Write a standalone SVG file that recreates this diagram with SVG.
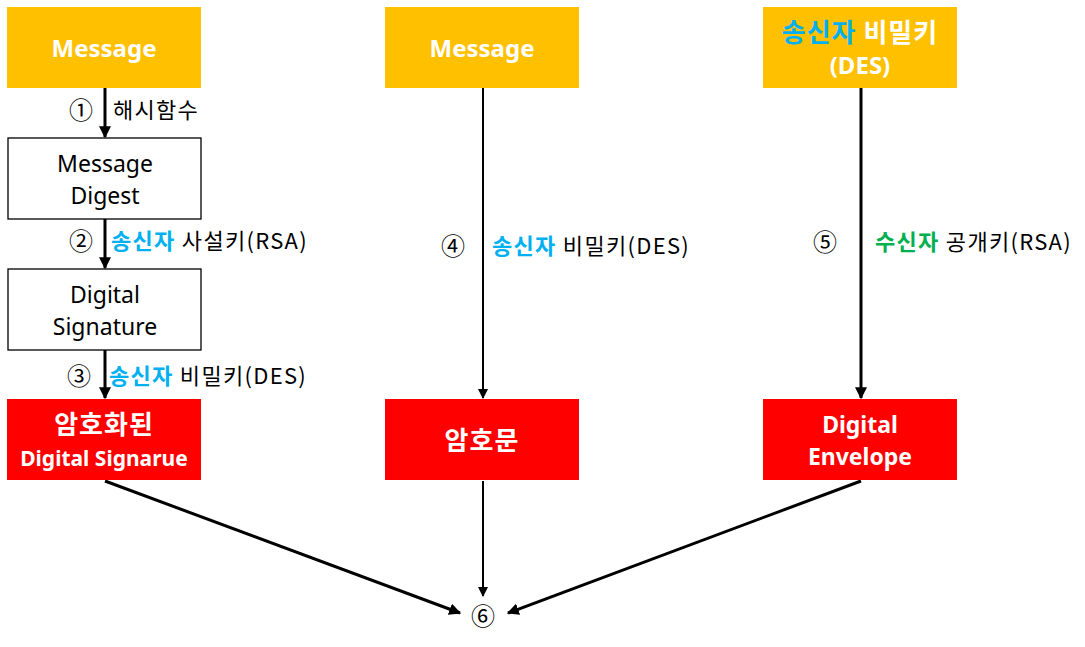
<svg xmlns="http://www.w3.org/2000/svg" width="1085" height="647" viewBox="0 0 1085 647">
<style>
text{font-family:"Noto Sans CJK KR","Noto Sans",sans-serif}
.lat{font-family:"Noto Sans","Noto Sans CJK KR",sans-serif}
.y{fill:#FFC000}
.r{fill:#FF0000}
.w{fill:#fff;stroke:#000;stroke-width:1.3}
.bt{fill:#fff;font-weight:bold;font-size:24px;text-anchor:middle}
.hk{font-size:26px;letter-spacing:1px}
.nt{fill:#000;font-size:23px;text-anchor:middle}
.lb{font-size:22px;fill:#000;letter-spacing:1.3px}
.num{font-size:24px;fill:#000;text-anchor:middle}
.bl{fill:#00B0F0;font-weight:bold}
.gr{fill:#00B050;font-weight:bold}
.c{stroke:#000;stroke-width:3;fill:none}
.c2{stroke:#000;stroke-width:2;fill:none}
</style>
<defs>
<marker id="ah" viewBox="0 0 10 10" refX="9" refY="5" markerWidth="4" markerHeight="4" orient="auto" markerUnits="strokeWidth"><path d="M0,0 L10,5 L0,10 z" fill="#000"/></marker>
<marker id="ah2" viewBox="0 0 10 10" refX="9" refY="5" markerWidth="5" markerHeight="5" orient="auto" markerUnits="strokeWidth"><path d="M0,0 L10,5 L0,10 z" fill="#000"/></marker>
</defs>
<g id="connectors">
<line class="c" x1="105" y1="88" x2="105" y2="137" marker-end="url(#ah)"/>
<line class="c" x1="105" y1="219" x2="105" y2="268" marker-end="url(#ah)"/>
<line class="c" x1="105" y1="350" x2="105" y2="398" marker-end="url(#ah)"/>
<line class="c2" x1="483" y1="88" x2="483" y2="398" marker-end="url(#ah2)"/>
<line class="c" x1="861" y1="88" x2="861" y2="398" marker-end="url(#ah)"/>
<line class="c" x1="105" y1="481" x2="460" y2="613" marker-end="url(#ah)"/>
<line class="c2" x1="483" y1="481" x2="483" y2="596" marker-end="url(#ah2)"/>
<line class="c" x1="861" y1="481" x2="508" y2="613" marker-end="url(#ah)"/>
</g>
<g id="labels">
<text class="num" x="81" y="119">①</text>
<text class="lb" x="113" y="118">해시함수</text>
<text class="num" x="81" y="250">②</text>
<text class="lb" x="111" y="249"><tspan class="bl">송신자</tspan> 사설키(RSA)</text>
<text class="num" x="79" y="385">③</text>
<text class="lb" x="109" y="384"><tspan class="bl">송신자</tspan> 비밀키(DES)</text>
<text class="num" x="453" y="255">④</text>
<text class="lb" x="492" y="254"><tspan class="bl">송신자</tspan> 비밀키(DES)</text>
<text class="num" x="825" y="251">⑤</text>
<text class="lb" x="875" y="250"><tspan class="gr">수신자</tspan> 공개키(RSA)</text>
<text class="num" x="483" y="625">⑥</text>
</g>
<g id="msg1"><rect class="y" x="7" y="7" width="194" height="81"/><text class="bt lat" x="104" y="57">Message</text></g>
<g id="digest"><rect class="w" x="8" y="138" width="193" height="81"/><text class="nt lat" x="105" y="172">Message</text><text class="nt lat" x="105" y="204">Digest</text></g>
<g id="sig"><rect class="w" x="8" y="269" width="193" height="81"/><text class="nt lat" x="105" y="303">Digital</text><text class="nt lat" x="105" y="335">Signature</text></g>
<g id="encsig"><rect class="r" x="7" y="399" width="194" height="81"/><text class="bt hk" x="104" y="434">암호화된</text><text class="bt lat" x="104" y="466" style="font-size:21px">Digital Signarue</text></g>
<g id="msg2"><rect class="y" x="385" y="7" width="194" height="81"/><text class="bt lat" x="482" y="57">Message</text></g>
<g id="cipher"><rect class="r" x="385" y="399" width="194" height="81"/><text class="bt hk" x="482" y="450">암호문</text></g>
<g id="key"><rect class="y" x="763" y="7" width="194" height="81"/><text class="bt hk" x="860" y="42"><tspan fill="#00B0F0">송신자</tspan> 비밀키</text><text class="bt lat" x="860" y="74" style="font-size:24px">(DES)</text></g>
<g id="envelope"><rect class="r" x="763" y="399" width="194" height="81"/><text class="bt lat" x="860" y="433" style="font-size:23px">Digital</text><text class="bt lat" x="860" y="465" style="font-size:23px">Envelope</text></g>
</svg>
